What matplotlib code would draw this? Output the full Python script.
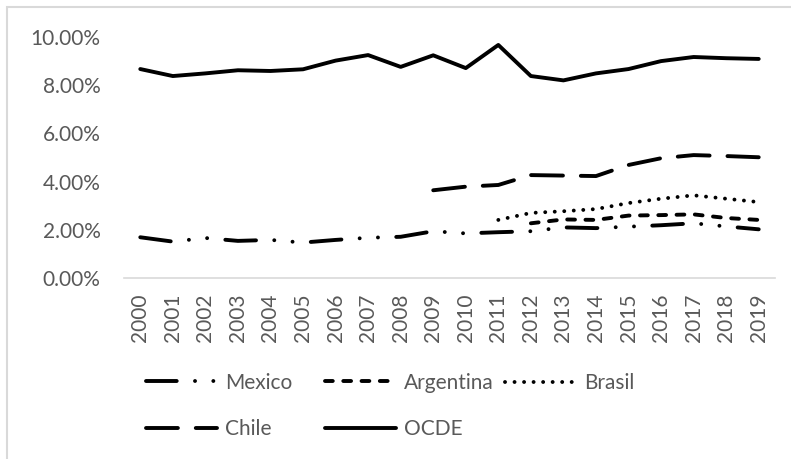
import numpy as np
import matplotlib
matplotlib.use("Agg")
import matplotlib.pyplot as plt
from matplotlib.patches import Rectangle

plt.rcParams['font.family'] = ['Lato', 'DejaVu Sans']

# data (percent)
years = [str(y) for y in range(2000, 2020)]
nan = np.nan
mexico = [1.69, 1.51, 1.66, 1.54, 1.58, 1.47, 1.58, 1.67, 1.71, 1.94,
          1.85, 1.90, 1.94, 2.10, 2.07, 2.13, 2.19, 2.27, 2.14, 2.02]
argentina = [nan] * 12 + [2.27, 2.43, 2.41, 2.59, 2.61, 2.64, 2.49, 2.41]
brasil = [nan] * 11 + [2.41, 2.70, 2.77, 2.86, 3.11, 3.29, 3.43, 3.29, 3.15]
chile = [nan] * 9 + [3.64, 3.79, 3.86, 4.27, 4.25, 4.23, 4.69, 4.97, 5.10, 5.06, 5.01]
ocde = [8.67, 8.38, 8.49, 8.62, 8.59, 8.66, 9.02, 9.25, 8.76, 9.24,
        8.71, 9.67, 8.38, 8.20, 8.49, 8.67, 9.00, 9.17, 9.12, 9.09]
yticks = [0, 2, 4, 6, 8, 10]

W, H = 791, 459
fig = plt.figure(figsize=(W / 100, H / 100), dpi=100)
ax = fig.add_axes([124 / W, (H - 278) / H, 651 / W, 241 / H])

# chart area border (only top and left are visible in the crop)
fig.patches.append(Rectangle((7 / W, -0.1), 1.2, (H - 7) / H + 0.1,
                             transform=fig.transFigure, fill=False,
                             edgecolor='#d9d9d9', linewidth=1.5))

lw = 2.8
x = np.arange(len(years))
kw = dict(color='black', linewidth=lw, dash_capstyle='round',
          solid_capstyle='round', solid_joinstyle='round')
l_mex, = ax.plot(x, mexico, linestyle=(0, (7.9, 4.7, 0.01, 4.7, 0.01, 4.7)), label='Mexico', **kw)
l_arg, = ax.plot(x, argentina, linestyle=(0, (2.0, 2.7)), label='Argentina', **kw)
l_bra, = ax.plot(x, brasil, linestyle=(0, (0.01, 2.44)), label='Brasil', **kw)
l_chi, = ax.plot(x, chile, linestyle=(0, (8.2, 4.6)), label='Chile', **kw)
l_ocd, = ax.plot(x, ocde, linestyle='-', label='OCDE', **kw)

ax.set_xlim(-0.5, len(years) - 0.5)
ax.set_ylim(0, 10)
ax.set_yticks(yticks)
ax.set_yticklabels(['%.2f%%' % v for v in yticks])
ax.set_xticks(x)
ax.set_xticklabels(years, rotation=90, va='top', ha='center')
ax.tick_params(axis='both', length=0, labelsize=15, labelcolor='#595959')
ax.tick_params(axis='y', pad=17)
ax.tick_params(axis='x', pad=11)
for s in ['top', 'right', 'left']:
    ax.spines[s].set_visible(False)
ax.spines['bottom'].set_color('#d9d9d9')
ax.spines['bottom'].set_linewidth(1.2)

# legend laid out like Excel's: three columns
leg_kw = dict(frameon=False, fontsize=15, labelcolor='#595959', handlelength=3.4,
              handletextpad=0.4, borderpad=0, borderaxespad=0, labelspacing=1.29)
leg1 = fig.legend(handles=[l_mex, l_chi], loc='center left',
                  bbox_to_anchor=(146 / W, 1 - 406 / H), **leg_kw)
leg2 = fig.legend(handles=[l_arg, l_ocd], loc='center left',
                  bbox_to_anchor=(325 / W, 1 - 406 / H), **leg_kw)
leg3 = fig.legend(handles=[l_bra], loc='center left',
                  bbox_to_anchor=(505 / W, 1 - 383 / H), **leg_kw)

fig.savefig('out.png', dpi=100)
